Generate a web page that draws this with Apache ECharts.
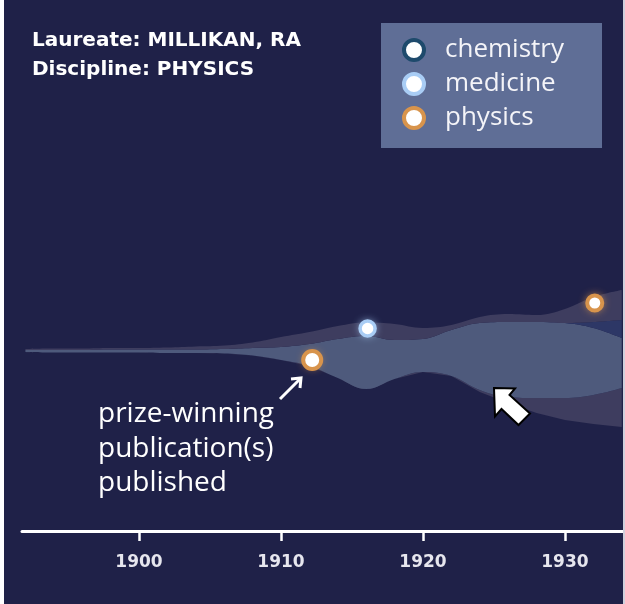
<!DOCTYPE html>
<html>
<head>
<meta charset="utf-8">
<script src="https://cdn.jsdelivr.net/npm/echarts@6/dist/echarts.min.js"></script>
<style>
html,body{margin:0;padding:0;background:#ffffff;}
#chart{width:625px;height:604px;}
</style>
</head>
<body>
<div id="chart"></div>
<script>
// ---- data ----
var years = [1892,1894,1896,1898,1900,1902,1904,1906,1908,1910,1912,1914,1916,1918,1920,1922,1924,1926,1928,1930,1932,1934];
// stream baseline (height of the lowest edge above the axis)
var baseline   = [17.9,17.85,17.85,17.85,17.85,17.8,17.8,17.75,17.55,17.1,16.5,15.3,14.2,15.2,15.9,15.5,13.9,12.8,11.8,11.1,10.7,10.4];
// layer thicknesses, bottom to top
var lowerBand  = [0,0,0,0,0,0,0,0,0,0,0,0,0,0,0,0,0.2,0.6,1.5,2.2,2.9,3.9];
var physicsBand= [0.2,0.25,0.25,0.3,0.3,0.35,0.35,0.45,0.75,1.3,2.2,3.9,5.3,3.9,3.3,4.6,6.7,7.5,7.6,7.5,6.7,5.0];
var chemBand   = [0,0,0,0,0,0,0,0,0,0,0,0,0,0,0,0,0,0,0,0,0.6,1.8];
var upperBand  = [0.1,0.15,0.15,0.15,0.15,0.2,0.3,0.35,0.55,1.0,1.2,1.3,1.35,1.6,1.1,0.5,0.6,0.8,0.7,1.4,2.5,3.0];
// publications
var physicsPubs  = [[1912.2,17.1],[1932.1,22.8]];
var medicinePubs = [[1916.1,20.25]];
var chemistryPubs = [];
var tickYears = [1900,1910,1920,1930];

var BG = '#1f2148';
var X_MIN = 1891.76, X_MAX = 1934.23;
var GRID_LEFT = 22, GRID_RIGHT = 0, W = 625;
var plotW = W - GRID_LEFT - GRID_RIGHT;
// second (category) grid aligned so that its first/last category fall on the same years of the value axis
var g2Left = GRID_LEFT + (years[0] - X_MIN) / (X_MAX - X_MIN) * plotW;
var g2Right = GRID_RIGHT + (X_MAX - years[years.length-1]) / (X_MAX - X_MIN) * plotW;

var C_CHEM = '#1e4a6c', C_MED = '#a9cdf5', C_PHYS = '#d8944c';

function band(name, arr, color){
  return {
    name:name, type:'line', stack:'stream', smooth:0.4, symbol:'none', silent:true,
    xAxisIndex:1, yAxisIndex:1,
    data:arr, lineStyle:{width:0, color:color},
    areaStyle:{color:color, opacity:1}, z:2
  };
}
function glow(data, color, size){
  return {type:'scatter', data:data, symbolSize:size, silent:true, z:7,
    itemStyle:{color:color, opacity:1, shadowBlur:8, shadowColor:color}};
}

var chart = echarts.init(document.getElementById('chart'));
var option = {
  backgroundColor: BG,
  animation:false,
  title:{
    text:'Laureate: MILLIKAN, RA\nDiscipline: PHYSICS',
    left:27, top:21,
    textStyle:{color:'#ffffff', fontFamily:'DejaVu Sans', fontWeight:'bold', fontSize:20, lineHeight:29}
  },
  legend:{
    orient:'vertical', left:397, top:32, z:10,
    itemWidth:52, itemHeight:20, itemGap:8,
    icon:'circle',
    textStyle:{color:'#f4f4f8', fontFamily:'Open Sans', fontSize:26},
    data:[
      {name:'chemistry', itemStyle:{color:'#ffffff', borderColor:C_CHEM, borderWidth:4, opacity:1}},
      {name:'medicine', itemStyle:{color:'#ffffff', borderColor:C_MED, borderWidth:4, opacity:1}},
      {name:'physics', itemStyle:{color:'#ffffff', borderColor:C_PHYS, borderWidth:4, opacity:1}}
    ]
  },
  grid:[
    {left:GRID_LEFT, right:GRID_RIGHT, top:31, bottom:73, outerBoundsMode:'none', containLabel:false},
    {left:g2Left, right:g2Right, top:31, bottom:73, outerBoundsMode:'none', containLabel:false}
  ],
  xAxis:[{
    type:'value', min:X_MIN, max:X_MAX, gridIndex:0,
    axisLine:{show:true, lineStyle:{color:'#ffffff', width:3}},
    axisTick:{show:true, customValues:tickYears, length:10, lineStyle:{color:'#ffffff', width:2.5}},
    axisLabel:{customValues:tickYears, formatter:function(v){return String(v);}, color:'#e6e6ee', fontFamily:'DejaVu Sans', fontWeight:'bold', fontSize:17, margin:23},
    splitLine:{show:false}, z:5
  },{
    type:'category', gridIndex:1, data:years.map(String), boundaryGap:false, show:false
  }],
  yAxis:[
    {type:'value', min:0, max:50, show:false, gridIndex:0},
    {type:'value', min:0, max:50, show:false, gridIndex:1}
  ],
  series:[
    {name:'base', type:'line', stack:'stream', symbol:'none', silent:true, xAxisIndex:1, yAxisIndex:1,
      data:baseline, lineStyle:{width:0}, z:1},
    band('lower', lowerBand, '#3e3d5f'),
    band('physicsStream', physicsBand, '#4e5a7c'),
    band('chemStream', chemBand, '#2d3766'),
    band('upper', upperBand, '#3e3d5f'),
    glow(medicinePubs, C_MED, 15),
    glow(physicsPubs, C_PHYS, 16),
    {name:'chemistry', type:'scatter', data:chemistryPubs, symbolSize:17,
      itemStyle:{color:'#ffffff', borderColor:C_CHEM, borderWidth:3.5, opacity:1}, z:8},
    {name:'medicine', type:'scatter', data:medicinePubs, symbolSize:15,
      itemStyle:{color:'#ffffff', borderColor:C_MED, borderWidth:3.5, opacity:1}, z:8},
    {name:'physics', type:'scatter', data:physicsPubs, symbolSize:function(v,p){return p.dataIndex===0?18:15;},
      itemStyle:{color:'#ffffff', borderColor:C_PHYS, borderWidth:4, opacity:1}, z:8}
  ],
  graphic:[
    {type:'rect', z:1, shape:{x:381, y:23, width:221, height:125}, style:{fill:'#5f6e96'}},
    {type:'text', z:6, left:98, top:397, style:{text:'prize-winning\npublication(s)\npublished', fill:'#ffffff', font:'28px "Open Sans"', lineHeight:34.5}},
    {type:'line', z:6, shape:{x1:280, y1:399, x2:300, y2:379}, style:{stroke:'#ffffff', lineWidth:3}},
    {type:'polyline', z:6, shape:{points:[[291,379],[301,378],[300,388]]}, style:{stroke:'#ffffff', lineWidth:3, fill:null}},
    {type:'polygon', z:6, shape:{points:[[494,388],[515,388.5],[509.5,395],[530,413.5],[518.5,425],[501.5,409],[495,416.5]]},
      style:{fill:'#ffffff', stroke:'#000000', lineWidth:2}},
    {type:'rect', z:20, shape:{x:0, y:0, width:4, height:604}, style:{fill:'#ffffff'}},
    {type:'rect', z:20, shape:{x:623, y:0, width:2, height:604}, style:{fill:'#d0d0dc'}}
  ]
};
chart.setOption(option);
</script>
</body>
</html>
